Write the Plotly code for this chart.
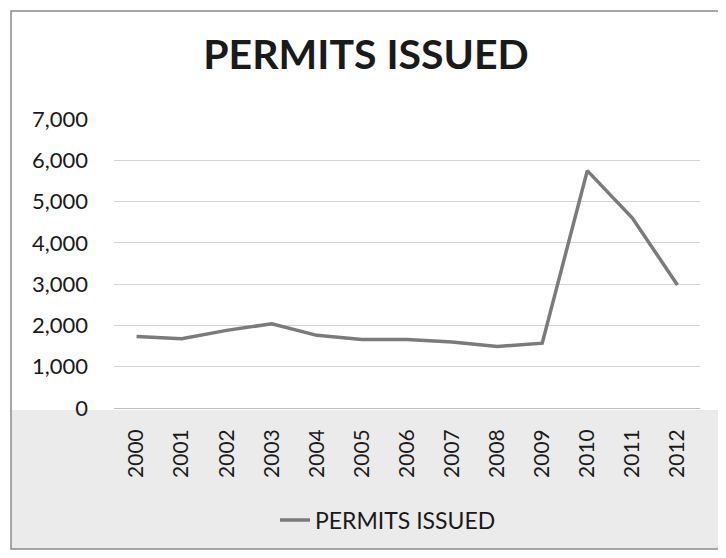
import plotly.graph_objects as go

years = ["2000", "2001", "2002", "2003", "2004", "2005", "2006",
         "2007", "2008", "2009", "2010", "2011", "2012"]
permits = [1730, 1680, 1880, 2040, 1760, 1660, 1660, 1600, 1490, 1570, 5750, 4600, 2980]
y_ticks = [0, 1000, 2000, 3000, 4000, 5000, 6000, 7000]
y_tick_text = ["0", "1,000", "2,000", "3,000", "4,000", "5,000", "6,000", "7,000"]
series_name = "PERMITS ISSUED"
title_text = "PERMITS ISSUED"

FONT = "Lato, 'Open Sans', sans-serif"

# page body has an 8px margin; work in screenshot coordinates and convert
OFF = 8
W, H = 726 - OFF, 558 - OFF
PL, PR, PT, PB = 114, 700, 119, 408   # plot area in screenshot coords
L, R, T, B = PL - OFF, (726 - PR), PT - OFF, (558 - PB)

def px(x):
    return (x - PL) / (PR - PL)

def py(y):
    return (PB - y) / (PB - PT)

fig = go.Figure()
fig.add_trace(go.Scatter(
    x=years, y=permits, mode="lines", name=series_name,
    line=dict(color="#7b7b7b", width=3.5),
))

fig.update_layout(
    width=W, height=H,
    margin=dict(l=L, r=R, t=T, b=B),
    paper_bgcolor="white",
    plot_bgcolor="rgba(0,0,0,0)",
    font=dict(family=FONT, color="#222222"),
    title=dict(text="<b>" + title_text + "</b>",
               x=(366 - OFF) / W, xref="container", xanchor="center",
               y=1 - (55 - OFF) / H, yref="container", yanchor="middle",
               font=dict(size=41, family=FONT, color="#1a1a1a")),
    showlegend=True,
    legend=dict(orientation="h", x=px(388), xanchor="center",
                y=py(520), yanchor="middle",
                font=dict(size=23, family=FONT, color="#1a1a1a"),
                bgcolor="rgba(0,0,0,0)"),
    xaxis=dict(type="category", range=[-0.5, 12.5], showgrid=False,
               showline=False, zeroline=False, tickangle=-90,
               ticks="", ticklabelstandoff=16,
               tickfont=dict(size=21, family=FONT, color="#1a1a1a"),
               fixedrange=True),
    yaxis=dict(range=[0, 7000], tickvals=y_ticks, ticktext=y_tick_text,
               showgrid=True, gridcolor="#d4d4d4", gridwidth=1,
               zeroline=True, zerolinecolor="#bdbdbd", zerolinewidth=1,
               showline=False, ticks="", ticklabelstandoff=25,
               tickfont=dict(size=22, family=FONT, color="#1a1a1a")),
    shapes=[
        dict(type="rect", xref="paper", yref="paper",
             x0=px(11), x1=px(721), y0=py(549), y1=py(410),
             fillcolor="#ebebeb", line=dict(width=0), layer="below"),
        dict(type="rect", xref="paper", yref="paper",
             x0=px(11), x1=px(721), y0=py(549), y1=py(11),
             fillcolor="rgba(0,0,0,0)", line=dict(color="#8a8a8a", width=1.5),
             layer="below"),
    ],
)

fig.write_html("out.html")
